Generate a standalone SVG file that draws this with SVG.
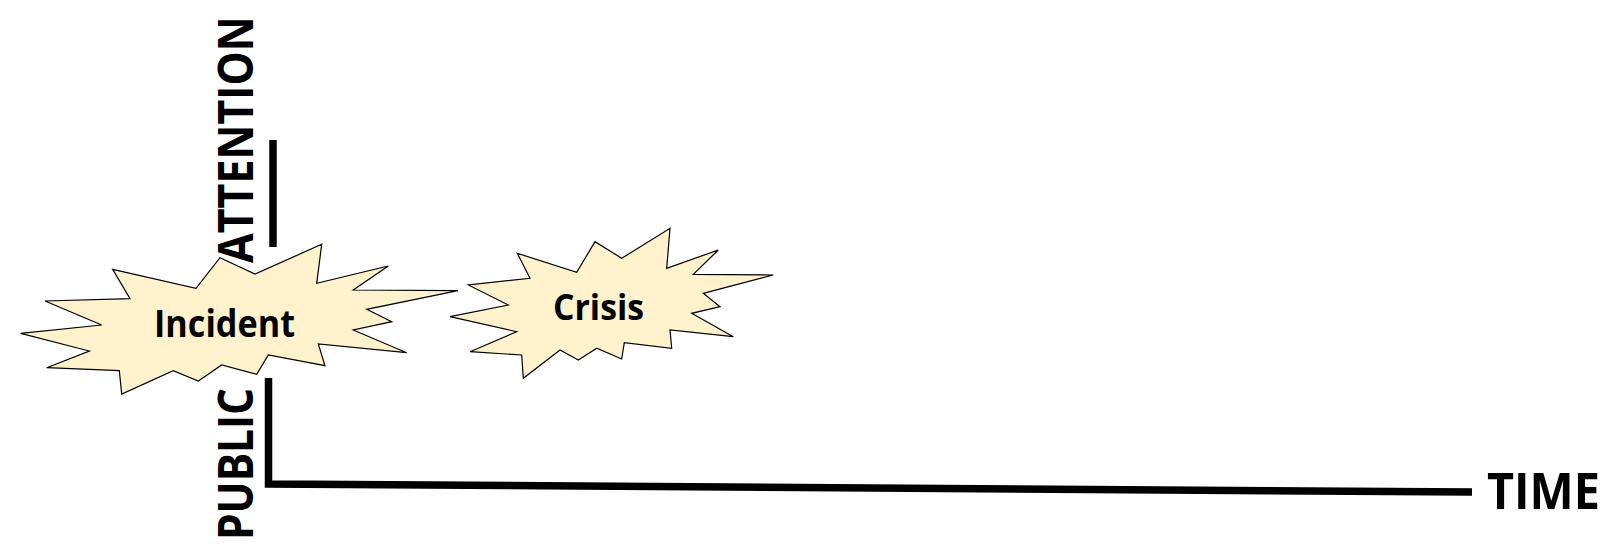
<svg xmlns="http://www.w3.org/2000/svg" width="1613" height="549" viewBox="0 0 1613 549">
<style>
.star{fill:#FFF2CC;stroke:#000;stroke-width:1.2;stroke-linejoin:miter}
.lbl{font-family:"Open Sans","Liberation Sans",sans-serif;font-weight:bold;fill:#000}
.axis{stroke:#000;stroke-width:7.5;fill:none}
</style>
<rect width="1613" height="549" fill="#fff"/>
<g id="connectors">
<line class="axis" x1="273" y1="140" x2="273" y2="247"/>
<polyline class="axis" points="268.5,378 268.5,484 1472,492" stroke-linejoin="miter"/>
</g>
<g id="attention-label">
<text class="lbl" font-size="48" transform="translate(253,263) rotate(-90) scale(0.9,1)" textLength="274" lengthAdjust="spacingAndGlyphs">ATTENTION</text>
</g>
<g id="public-label">
<text class="lbl" font-size="48" transform="translate(253,540) rotate(-90) scale(0.9,1)" textLength="169" lengthAdjust="spacingAndGlyphs">PUBLIC</text>
</g>
<g id="time-label">
<text class="lbl" font-size="50" x="1487" y="509" textLength="113" lengthAdjust="spacingAndGlyphs">TIME</text>
</g>
<g id="incident">
<polygon class="star" points="112.7,269.3 196,288.3 220,257.7 255,274 321.7,244.3 316.7,283.3 388.3,266 353.3,290 458,290.7 366.7,309.3 391.7,321.7 353.3,330 406.7,352.7 318.3,344 325,365.7 268.3,355 256.7,374.3 221.7,365 198.3,381 173.3,370.7 121.7,394 119.3,370.7 46.7,367.7 89.3,351 20.7,333.3 101.7,325 45,301 130,298.7"/>
<text class="lbl" font-size="37" x="154" y="336.5" textLength="141" lengthAdjust="spacingAndGlyphs">Incident</text>
</g>
<g id="crisis">
<polygon class="star" points="517.3,253.3 576.7,272.3 595,241.7 621.7,258.3 670,228.3 666.7,268.3 718.3,250 693.3,274.3 773.3,275 703.3,293.3 720,306.7 691.7,313.3 733.3,336.7 670,330 671.7,348.3 624.3,342.7 621.7,359 596.7,348.3 578.3,360 560,350 523.3,378.3 521.7,355 470,351.7 516.7,331.7 450,316.7 508.3,305 468.3,285 530,278.3"/>
<text class="lbl" font-size="35" x="553" y="320" textLength="91" lengthAdjust="spacingAndGlyphs">Crisis</text>
</g>
</svg>
